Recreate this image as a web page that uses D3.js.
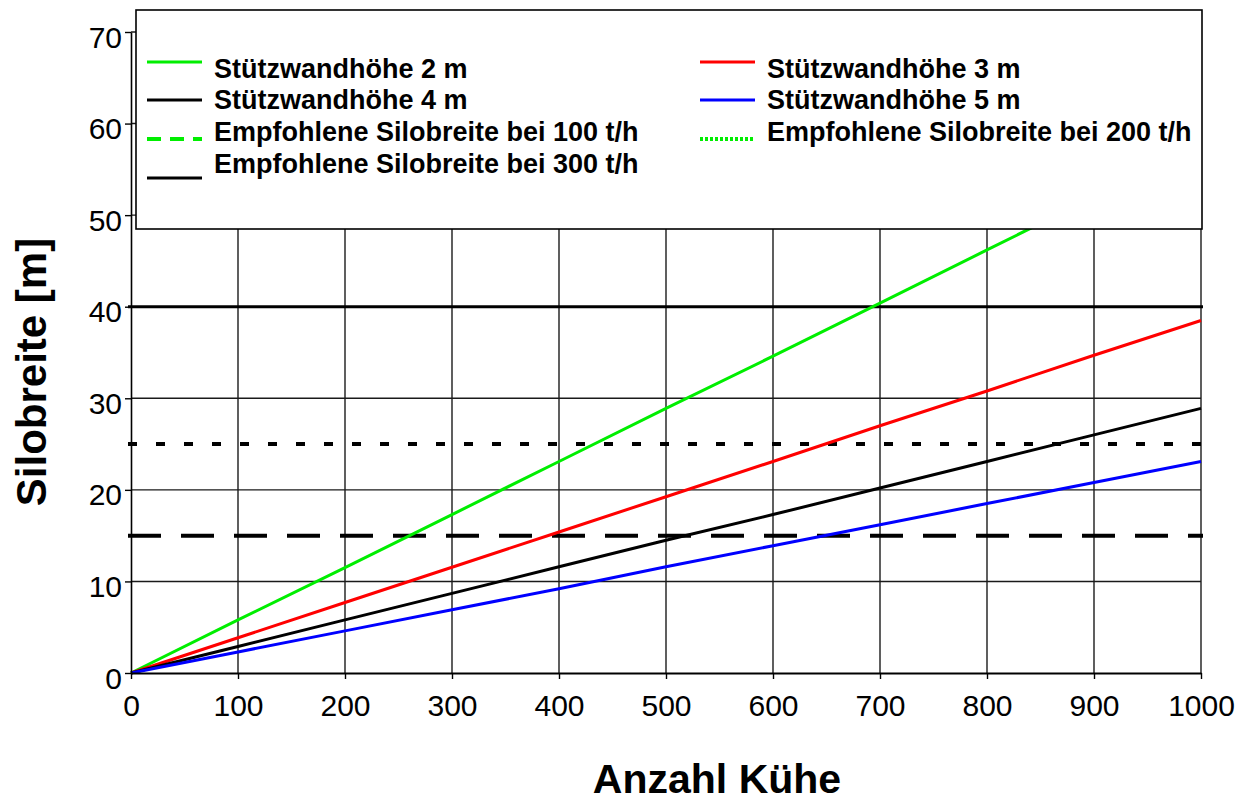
<!DOCTYPE html>
<html>
<head>
<meta charset="utf-8">
<script src="https://cdn.jsdelivr.net/npm/d3@7"></script>
<style>
  html, body { margin: 0; padding: 0; background: #fff; }
  svg { display: block; font-family: "Liberation Sans", Arial, sans-serif; }
</style>
</head>
<body>
<svg id="chart" width="1257" height="802"></svg>
<script>
// ---- data ----
const cows = [0, 100, 200, 300, 400, 500, 600, 700, 800, 900, 1000];
const wall2m = [0, 5.8, 11.5, 17.3, 23.1, 28.9, 34.6, 40.4, 46.2, 52.0, 57.7];
const wall3m = [0, 3.85, 7.7, 11.55, 15.4, 19.25, 23.1, 27.0, 30.8, 34.7, 38.5];
const wall4m = [0, 2.9, 5.8, 8.7, 11.6, 14.5, 17.3, 20.2, 23.1, 26.0, 28.9];
const wall5m = [0, 2.3, 4.6, 6.9, 9.2, 11.6, 13.9, 16.2, 18.5, 20.8, 23.1];
const recommended100 = 15;
const recommended200 = 25;
const recommended300 = 40;
const xTicks = [0, 100, 200, 300, 400, 500, 600, 700, 800, 900, 1000];
const yTicks = [0, 10, 20, 30, 40, 50, 60, 70];
const seriesNames = ["Stützwandhöhe 2 m", "Stützwandhöhe 3 m", "Stützwandhöhe 4 m", "Stützwandhöhe 5 m"];
const refNames = ["Empfohlene Silobreite bei 100 t/h", "Empfohlene Silobreite bei 200 t/h", "Empfohlene Silobreite bei 300 t/h"];
const xTitle = "Anzahl Kühe";
const yTitle = "Silobreite [m]";

// ---- setup ----
const svg = d3.select("#chart");
const x = d3.scaleLinear().domain([0, 1000]).range([131, 1201]);
const y = d3.scaleLinear().domain([0, 70]).range([673, 32]);

const seriesStyles = [
  { color: "#00ee00" }, { color: "#ff0000" }, { color: "#000000" }, { color: "#0000ff" }
];

// grid
const grid = svg.append("g");
grid.selectAll("line.v").data(xTicks.filter(d => d > 0)).join("line")
  .attr("x1", d => x(d)).attr("x2", d => x(d))
  .attr("y1", y(0)).attr("y2", y(70))
  .attr("stroke", "#1a1a1a").attr("stroke-width", 1.4);
grid.selectAll("line.h").data(yTicks.filter(d => d > 0)).join("line")
  .attr("x1", x(0)).attr("x2", x(1000))
  .attr("y1", d => y(d)).attr("y2", d => y(d))
  .attr("stroke", "#1a1a1a").attr("stroke-width", 1.4);

// reference lines
const refs = [
  { v: recommended300, dash: null, w: 3 },
  { v: recommended200, dash: "9,19", w: 4 },
  { v: recommended100, dash: "33,20", w: 4 }
];
svg.append("g").selectAll("line").data(refs).join("line")
  .attr("x1", x(0) - 3).attr("x2", x(1000) + 2)
  .attr("y1", d => y(d.v)).attr("y2", d => y(d.v))
  .attr("stroke", "#000").attr("stroke-width", d => d.w)
  .attr("stroke-dasharray", d => d.dash);

// series lines
const allSeries = [wall2m, wall3m, wall4m, wall5m];
const line = d3.line().x((d, i) => x(cows[i])).y(d => y(d));
svg.append("g").selectAll("path").data(allSeries).join("path")
  .attr("d", d => line(d))
  .attr("fill", "none")
  .attr("stroke", (d, i) => seriesStyles[i].color)
  .attr("stroke-width", 3);

// axes
const yAxis = d3.axisLeft(y).tickValues(yTicks).tickFormat(d3.format("d"))
  .tickSize(6).tickSizeOuter(0).tickPadding(3);
const gy = svg.append("g").attr("transform", `translate(${x(0)},0)`).call(yAxis);
gy.select(".domain").attr("stroke", "#000").attr("stroke-width", 1.6);
gy.selectAll(".tick line").attr("stroke", "#000").attr("stroke-width", 1.4);
gy.selectAll(".tick text").attr("font-size", 30).attr("fill", "#000")
  .attr("font-family", "Liberation Sans, Arial, sans-serif").attr("dy", "0.5em");

const xAxis = d3.axisBottom(x).tickValues(xTicks).tickFormat(d3.format("d"))
  .tickSize(6).tickSizeOuter(0).tickPadding(16);
const gx = svg.append("g").attr("transform", `translate(0,${y(0)})`).call(xAxis);
gx.select(".domain").attr("stroke", "#000").attr("stroke-width", 2);
gx.selectAll(".tick line").attr("stroke", "#000").attr("stroke-width", 1.4);
gx.selectAll(".tick text").attr("font-size", 30).attr("fill", "#000")
  .attr("font-family", "Liberation Sans, Arial, sans-serif").attr("dy", "0.71em");

// titles
svg.append("text").attr("x", 717).attr("y", 793).attr("text-anchor", "middle")
  .attr("font-size", 41).attr("font-weight", "bold").text(xTitle);
svg.append("text").attr("transform", "translate(46,372) rotate(-90)").attr("text-anchor", "middle")
  .attr("font-size", 42).attr("font-weight", "bold").text(yTitle);

// legend
const lg = svg.append("g");
lg.append("rect").attr("x", 136).attr("y", 10).attr("width", 1066).attr("height", 219)
  .attr("fill", "#fff").attr("stroke", "#000").attr("stroke-width", 1.6);

const legendItems = [
  { name: seriesNames[0], color: seriesStyles[0].color, dash: null, w: 3, col: 0, row: 0 },
  { name: seriesNames[1], color: seriesStyles[1].color, dash: null, w: 3, col: 1, row: 0 },
  { name: seriesNames[2], color: seriesStyles[2].color, dash: null, w: 3, col: 0, row: 1 },
  { name: seriesNames[3], color: seriesStyles[3].color, dash: null, w: 3, col: 1, row: 1 },
  { name: refNames[0], color: "#00ee00", dash: "14,9", w: 4, col: 0, row: 2 },
  { name: refNames[1], color: "#00ee00", dash: "3,2", w: 4, col: 1, row: 2 },
  { name: refNames[2], color: "#000000", dash: null, w: 3, col: 0, row: 3 }
];
const colX = [147, 700];
const rowText = [78, 109, 141, 173];
const rowLine = [62, 100, 139, 178];
const li = lg.selectAll("g.item").data(legendItems).join("g");
li.append("line")
  .attr("x1", d => colX[d.col]).attr("x2", d => colX[d.col] + 55)
  .attr("y1", d => rowLine[d.row]).attr("y2", d => rowLine[d.row])
  .attr("stroke", d => d.color).attr("stroke-width", d => d.w)
  .attr("stroke-dasharray", d => d.dash);
li.append("text")
  .attr("x", d => colX[d.col] + 67).attr("y", d => rowText[d.row])
  .attr("font-size", 27).attr("font-weight", "bold").attr("fill", "#000")
  .text(d => d.name);
</script>
</body>
</html>
